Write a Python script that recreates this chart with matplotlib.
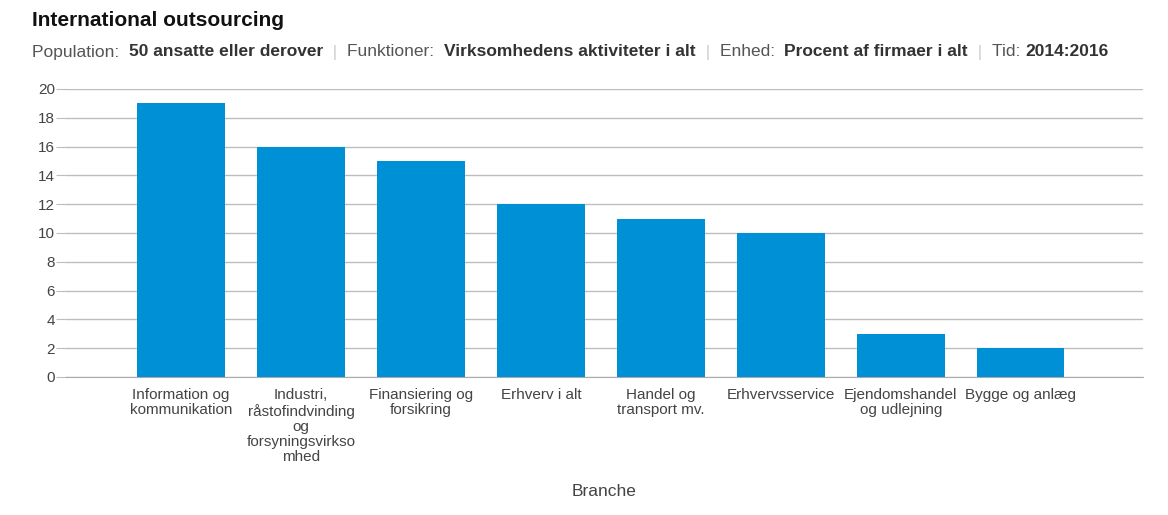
import matplotlib
matplotlib.use("Agg")
import matplotlib.pyplot as plt

plt.rcParams["font.family"] = ["Liberation Sans", "DejaVu Sans"]

categories = [
    "Information og\nkommunikation",
    "Industri,\nråstofindvinding\nog\nforsyningsvirkso\nmhed",
    "Finansiering og\nforsikring",
    "Erhverv i alt",
    "Handel og\ntransport mv.",
    "Erhvervsservice",
    "Ejendomshandel\nog udlejning",
    "Bygge og anlæg",
]
values = [19, 16, 15, 12, 11, 10, 3, 2]
yticks = [0, 2, 4, 6, 8, 10, 12, 14, 16, 18, 20]

subtitle_parts = [
    ("Population:  ", "normal", "#555555"),
    ("50 ansatte eller derover", "bold", "#333333"),
    ("  |  ", "normal", "#cccccc"),
    ("Funktioner:  ", "normal", "#555555"),
    ("Virksomhedens aktiviteter i alt", "bold", "#333333"),
    ("  |  ", "normal", "#cccccc"),
    ("Enhed:  ", "normal", "#555555"),
    ("Procent af firmaer i alt", "bold", "#333333"),
    ("  |  ", "normal", "#cccccc"),
    ("Tid: ", "normal", "#555555"),
    ("2014:2016", "bold", "#333333"),
]

W, H = 1168, 515
fig = plt.figure(figsize=(W / 100, H / 100), dpi=100)
ax = fig.add_axes([66 / W, 1 - 377 / H, (1143 - 66) / W, (377 - 89) / H])

x = list(range(len(categories)))
ax.bar(x, values, width=0.73, color="#0090d6", zorder=3)
ax.set_xlim(-0.96, 8.02)
ax.set_ylim(0, 20)
ax.set_yticks(yticks)
ax.set_yticklabels([str(v) for v in yticks])
ax.yaxis.grid(True, color="#bdbdbd", linewidth=1, zorder=0)
ax.tick_params(axis="y", length=7, color="#bdbdbd", labelsize=11, labelcolor="#444444", pad=1)
ax.set_xticks(x)
ax.set_xticklabels(categories, fontsize=11, color="#444444", linespacing=1.12)
ax.tick_params(axis="x", length=0, pad=8)
for s in ["top", "right", "left"]:
    ax.spines[s].set_visible(False)
ax.spines["bottom"].set_color("#aaaaaa")
ax.set_xlabel("Branche", fontsize=12.5, color="#444444", labelpad=14)

fig.text(32 / W, 1 - 21 / H, "International outsourcing", fontsize=15, fontweight="bold",
         color="#111111", va="center")

renderer = fig.canvas.get_renderer()
xpos = 32
for txt, weight, col in subtitle_parts:
    t = fig.text(xpos / W, 1 - 52 / H, txt, fontsize=12.5, fontweight=weight, color=col, va="center")
    bb = t.get_window_extent(renderer=renderer)
    xpos += bb.width

fig.savefig("out.png", dpi=100)
